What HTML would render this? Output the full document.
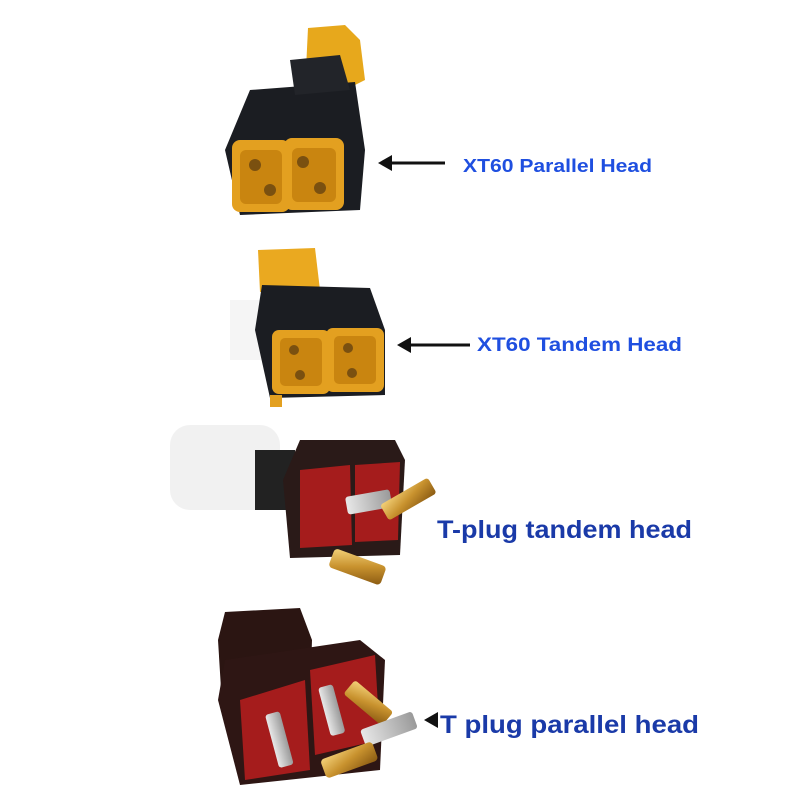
<!DOCTYPE html>
<html><head><meta charset="utf-8"><style>
html,body{margin:0;padding:0;background:#fff;width:800px;height:800px;overflow:hidden}
svg{display:block}
text{font-family:"Liberation Sans","DejaVu Sans",sans-serif;font-weight:bold}
</style></head><body>
<svg width="800" height="800" viewBox="0 0 800 800">
<defs>
<linearGradient id="gold" x1="0" y1="0" x2="1" y2="1"><stop offset="0" stop-color="#f4d27a"/><stop offset="0.5" stop-color="#c8922e"/><stop offset="1" stop-color="#8a5a12"/></linearGradient>
<linearGradient id="silver" x1="0" y1="0" x2="1" y2="0"><stop offset="0" stop-color="#e8e8e8"/><stop offset="1" stop-color="#9a9a9a"/></linearGradient>
</defs>
<!-- faint wires -->
<rect x="170" y="425" width="110" height="85" rx="20" fill="#f1f1f1"/>
<rect x="230" y="300" width="40" height="60" fill="#f5f5f5"/>
<!-- 1 XT60 parallel -->
<path d="M308 28 L345 25 L360 40 L365 80 L335 95 L305 90 Z" fill="#e7a81c"/>
<path d="M250 90 L355 82 L365 150 L360 210 L240 215 L225 150 Z" fill="#1b1d22"/>
<path d="M290 60 L340 55 L350 90 L295 95 Z" fill="#222429"/>
<rect x="232" y="140" width="58" height="72" rx="8" fill="#e3a020"/>
<rect x="284" y="138" width="60" height="72" rx="8" fill="#e3a020"/>
<rect x="240" y="150" width="42" height="54" rx="6" fill="#c98510"/>
<rect x="292" y="148" width="44" height="54" rx="6" fill="#c98510"/>
<circle cx="255" cy="165" r="6" fill="#7a5010"/><circle cx="270" cy="190" r="6" fill="#7a5010"/>
<circle cx="303" cy="162" r="6" fill="#7a5010"/><circle cx="320" cy="188" r="6" fill="#7a5010"/>
<line x1="445" y1="163" x2="385" y2="163" stroke="#111" stroke-width="3"/>
<path d="M378 163 L392 155 L392 171 Z" fill="#111"/>
<text x="463" y="172" font-size="18" fill="#1f4fe0" textLength="189" lengthAdjust="spacingAndGlyphs">XT60 Parallel Head</text>
<!-- 2 XT60 tandem -->
<path d="M258 250 L315 248 L320 290 L260 292 Z" fill="#eaa920"/>
<path d="M262 285 L370 288 L385 330 L385 395 L270 398 L255 330 Z" fill="#1b1d22"/>
<rect x="272" y="330" width="58" height="64" rx="7" fill="#e3a020"/>
<rect x="326" y="328" width="58" height="64" rx="7" fill="#e3a020"/>
<rect x="280" y="338" width="42" height="48" rx="5" fill="#c98510"/>
<rect x="334" y="336" width="42" height="48" rx="5" fill="#c98510"/>
<circle cx="294" cy="350" r="5" fill="#7a5010"/><circle cx="300" cy="375" r="5" fill="#7a5010"/>
<circle cx="348" cy="348" r="5" fill="#7a5010"/><circle cx="352" cy="373" r="5" fill="#7a5010"/>
<rect x="270" y="395" width="12" height="12" fill="#e3a020"/>
<line x1="470" y1="345" x2="405" y2="345" stroke="#111" stroke-width="3"/>
<path d="M397 345 L411 337 L411 353 Z" fill="#111"/>
<text x="477" y="351" font-size="19" fill="#1f4fe0" textLength="205" lengthAdjust="spacingAndGlyphs">XT60 Tandem Head</text>
<!-- 3 T-plug tandem -->
<rect x="255" y="450" width="40" height="60" fill="#222"/>
<path d="M300 440 L395 440 L405 460 L400 555 L290 558 L283 480 Z" fill="#2a1a18"/>
<path d="M300 470 L350 465 L352 545 L300 548 Z" fill="#a51c1c"/>
<path d="M355 465 L400 462 L398 540 L355 542 Z" fill="#a51c1c"/>
<rect x="345" y="497" width="45" height="18" rx="3" fill="url(#silver)" transform="rotate(-10 345 497)"/>
<rect x="380" y="505" width="55" height="18" rx="3" fill="url(#gold)" transform="rotate(-30 380 505)"/>
<rect x="335" y="548" width="55" height="20" rx="4" fill="url(#gold)" transform="rotate(20 335 548)"/>
<text x="437" y="538" font-size="25" fill="#1a3aa8" textLength="255" lengthAdjust="spacingAndGlyphs">T-plug tandem head</text>
<!-- 4 T plug parallel -->
<path d="M225 612 L300 608 L312 640 L310 700 L222 705 L218 640 Z" fill="#2b1512"/>
<path d="M225 660 L360 640 L385 660 L380 770 L240 785 L218 700 Z" fill="#2e1614"/>
<path d="M240 700 L305 680 L310 770 L245 780 Z" fill="#a51c1c"/>
<path d="M310 670 L375 655 L380 740 L315 755 Z" fill="#a51c1c"/>
<rect x="318" y="688" width="15" height="50" rx="3" fill="url(#silver)" transform="rotate(-15 318 688)"/>
<rect x="355" y="680" width="50" height="18" rx="3" fill="url(#gold)" transform="rotate(40 355 680)"/>
<rect x="265" y="715" width="15" height="55" rx="3" fill="url(#silver)" transform="rotate(-15 265 715)"/>
<rect x="360" y="730" width="55" height="18" rx="3" fill="url(#silver)" transform="rotate(-20 360 730)"/>
<rect x="320" y="760" width="55" height="20" rx="4" fill="url(#gold)" transform="rotate(-20 320 760)"/>
<path d="M424 720 L438 712 L438 728 Z" fill="#111"/>
<text x="440" y="733" font-size="25" fill="#1a3aa8" textLength="259" lengthAdjust="spacingAndGlyphs">T plug parallel head</text>
</svg>
</body></html>
